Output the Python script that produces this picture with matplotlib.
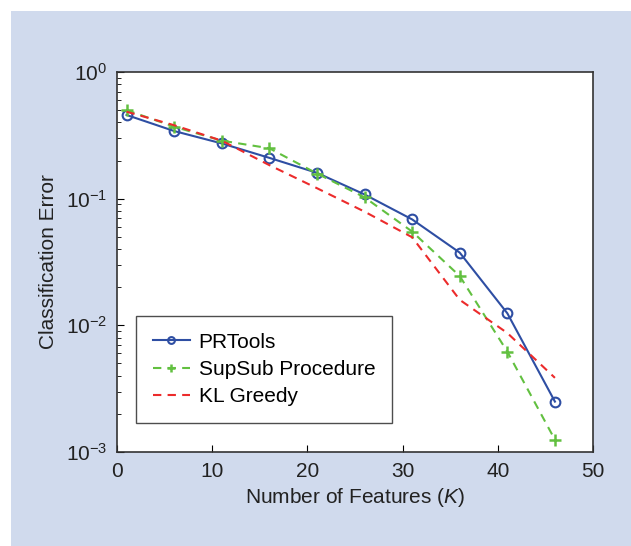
import matplotlib
matplotlib.use('Agg')
import matplotlib.pyplot as plt
from matplotlib.patches import Rectangle

plt.rcParams['font.family'] = ['Liberation Sans', 'DejaVu Sans']
plt.rcParams['mathtext.fontset'] = 'custom'
plt.rcParams['mathtext.rm'] = 'Liberation Sans'
plt.rcParams['mathtext.it'] = 'Liberation Sans:italic'

K = [1, 6, 11, 16, 21, 26, 31, 36, 41, 46]
prtools = [0.458, 0.342, 0.273, 0.21, 0.16, 0.108, 0.0686, 0.0375, 0.01245, 0.0025]
supsub = [0.50, 0.37, 0.287, 0.25, 0.158, 0.1025, 0.055, 0.0245, 0.0062, 0.00125]
kl_greedy = [0.486, 0.38, 0.287, 0.184, 0.121, 0.079, 0.0496, 0.0159, 0.0087, 0.00385]

fig = plt.figure(figsize=(6.31, 5.46), dpi=100)
fig.patch.set_facecolor('white')
fig.patches.append(Rectangle((11 / 631, 0), 1, 1 - 11 / 546, transform=fig.transFigure,
                             facecolor='#d0daed', edgecolor='none', zorder=-1))

ax = fig.add_axes([117 / 631, 1 - 452 / 546, 476 / 631, 380 / 546])
ax.set_facecolor('white')

ax.semilogy(K, prtools, '-', color='#2e4ea3', lw=1.5, marker='o', ms=7,
            mfc='none', mew=1.5, label='PRTools')
ax.semilogy(K, supsub, '--', color='#62c040', lw=1.5, marker='+', ms=8,
            mew=1.8, label='SupSub Procedure', dashes=(4, 3))
ax.semilogy(K, kl_greedy, '--', color='#ec2b2b', lw=1.5, label='KL Greedy', dashes=(4, 3))

ax.set_xlim(0, 50)
ax.set_ylim(1e-3, 1)
ax.set_xticks([0, 10, 20, 30, 40, 50])
ax.tick_params(axis='both', which='both', direction='in', labelsize=15, pad=7,
               labelcolor='#222222')
ax.tick_params(which='major', length=5)
ax.tick_params(which='minor', length=3)
for s in ax.spines.values():
    s.set_color('#333333')
    s.set_linewidth(1.2)

ax.set_xlabel('Number of Features ($\\mathit{K}$)', fontsize=15, color='#222222', labelpad=4)
ax.set_ylabel('Classification Error', fontsize=15, color='#222222', labelpad=6)

leg = ax.legend(loc='lower left', bbox_to_anchor=(0.04, 0.076), borderaxespad=0,
                fontsize=15, frameon=True, fancybox=False, edgecolor='#222222',
                handlelength=1.8, handletextpad=0.4, borderpad=0.8,
                labelspacing=0.4, markerscale=0.7)
leg.get_frame().set_linewidth(1.0)

fig.savefig('out.png', dpi=100)
